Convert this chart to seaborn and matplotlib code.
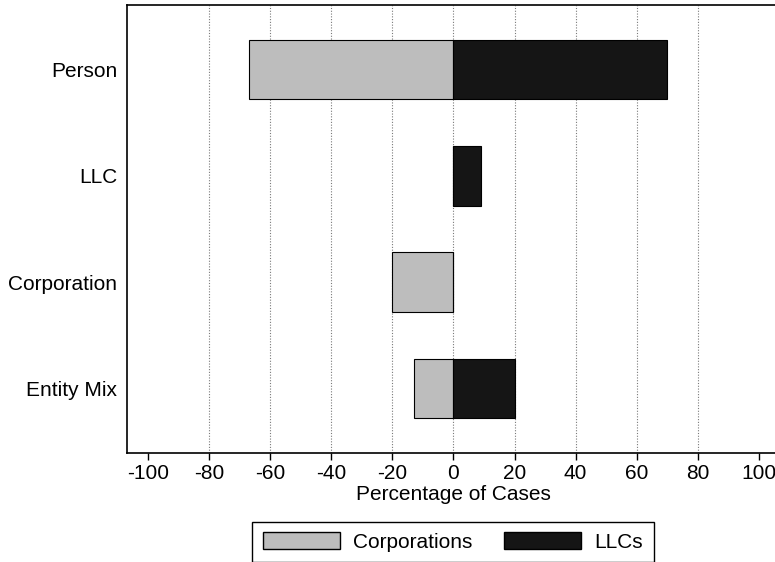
import matplotlib
matplotlib.use('Agg')
import matplotlib.pyplot as plt
import seaborn as sns
import pandas as pd
from matplotlib.patches import Patch

# Values (percent of cases)
categories = ['Person', 'LLC', 'Corporation', 'Entity Mix']
corporations = [-67, 0, -20, -13]
llcs = [70, 9, 0, 20]
x_ticks = [-100, -80, -60, -40, -20, 0, 20, 40, 60, 80, 100]

sns.set_style('white')
plt.rcParams['font.family'] = ['Liberation Sans', 'DejaVu Sans']
plt.rcParams['text.color'] = 'black'
plt.rcParams['axes.labelcolor'] = 'black'
plt.rcParams['xtick.color'] = 'black'
plt.rcParams['ytick.color'] = 'black'

data = pd.DataFrame({'Category': categories, 'Corporations': corporations, 'LLCs': llcs})

corp_color = '#bdbdbd'
llc_color = '#151515'

fig = plt.figure(figsize=(7.75, 5.62), dpi=100)
ax = fig.add_axes([127 / 775, 109 / 562, 653 / 775, 448 / 562])

# dotted vertical grid lines (not at the outer ticks)
for x in x_ticks[1:-1]:
    ax.axvline(x, color='#7a7a7a', linestyle=(0, (1, 1.5)), linewidth=0.8, zorder=0)

sns.barplot(data=data, y='Category', x='Corporations', color=corp_color, saturation=1,
            edgecolor='black', linewidth=0.8, width=0.56, ax=ax, zorder=2)
sns.barplot(data=data, y='Category', x='LLCs', color=llc_color, saturation=1,
            edgecolor='black', linewidth=0.8, width=0.56, ax=ax, zorder=2)

ax.set_xlim(-107, 107)
ax.set_ylim(3.61, -0.61)
ax.set_xticks(x_ticks)
ax.set_xticklabels([str(t) for t in x_ticks])
ax.set_ylabel('')
ax.set_xlabel('Percentage of Cases', fontsize=15, labelpad=1, color='black')

ax.tick_params(axis='x', direction='out', length=5, width=1, labelsize=15, pad=3,
               bottom=True, colors='black')
ax.tick_params(axis='y', length=0, labelsize=15, pad=7, colors='black')

for side in ['left', 'bottom', 'top']:
    ax.spines[side].set_color('black')
    ax.spines[side].set_linewidth(1.2)
ax.spines['right'].set_visible(False)

handles = [Patch(facecolor=corp_color, edgecolor='black', label='Corporations'),
           Patch(facecolor=llc_color, edgecolor='black', label='LLCs')]
leg = fig.legend(handles=handles, loc='center', bbox_to_anchor=(453 / 775, 20 / 562),
                 ncol=2, frameon=True, fancybox=False, edgecolor='black', framealpha=1,
                 fontsize=15, handlelength=3.7, handleheight=0.9, handletextpad=0.65,
                 columnspacing=1.5, borderpad=0.5, labelcolor='black')
leg.get_frame().set_linewidth(1.0)

fig.savefig('out.png', dpi=100)
